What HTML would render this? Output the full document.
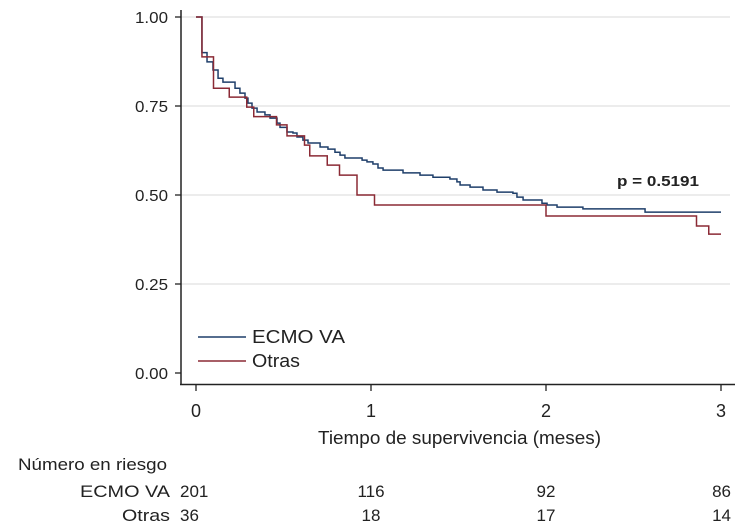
<!DOCTYPE html>
<html><head><meta charset="utf-8"><style>
body{margin:0;background:#fff}
svg text{font-family:"Liberation Sans",Arial,sans-serif;fill:#222}
</style></head><body>
<svg id="c" width="750" height="527" xmlns="http://www.w3.org/2000/svg">
<g id="grid"></g><g id="axes"></g><g id="curves"></g>
<g>
<line x1="198" y1="337" x2="246" y2="337" stroke="#1f3f6a" stroke-width="1.6"/>
<text x="252" y="343" font-size="18" textLength="93" lengthAdjust="spacingAndGlyphs">ECMO VA</text>
<line x1="198" y1="361" x2="246" y2="361" stroke="#8b2a35" stroke-width="1.6"/>
<text x="252" y="367" font-size="18" textLength="48" lengthAdjust="spacingAndGlyphs">Otras</text>
</g>
<text x="617" y="186" font-size="15" font-weight="bold" textLength="82" lengthAdjust="spacingAndGlyphs">p = 0.5191</text>
<text x="318" y="444" font-size="18" textLength="283" lengthAdjust="spacingAndGlyphs">Tiempo de supervivencia (meses)</text>
<text x="18" y="470" font-size="17" textLength="149" lengthAdjust="spacingAndGlyphs">Número en riesgo</text>
<text x="80" y="497" font-size="17" textLength="90" lengthAdjust="spacingAndGlyphs">ECMO VA</text>
<text x="122" y="521" font-size="17" textLength="48" lengthAdjust="spacingAndGlyphs">Otras</text>
<g id="risk"></g>
</svg>
<script>
const xTicks=[0,1,2,3];
const yTicks=[0,0.25,0.5,0.75,1];
const yTickLabels=["0.00","0.25","0.50","0.75","1.00"];
const ecmoTimes=[0,0.034,0.063,0.097,0.126,0.154,0.223,0.251,0.28,0.297,0.32,0.349,0.394,0.423,0.463,0.48,0.52,0.554,0.577,0.611,0.64,0.709,0.754,0.794,0.823,0.851,0.949,0.977,1.011,1.04,1.069,1.183,1.28,1.354,1.451,1.491,1.509,1.566,1.64,1.72,1.811,1.834,1.869,1.977,2.006,2.063,2.211,2.566,3.0];
const ecmoSurv=[1,0.90,0.874,0.851,0.828,0.817,0.80,0.786,0.772,0.758,0.744,0.733,0.725,0.716,0.702,0.69,0.677,0.674,0.663,0.654,0.646,0.635,0.629,0.62,0.612,0.604,0.598,0.593,0.587,0.576,0.57,0.562,0.556,0.55,0.545,0.537,0.528,0.522,0.514,0.508,0.505,0.494,0.486,0.477,0.472,0.466,0.461,0.452,0.452];
const otrasTimes=[0,0.034,0.1,0.19,0.29,0.33,0.46,0.52,0.62,0.65,0.75,0.82,0.92,1.02,2.0,2.86,2.93,3.0];
const otrasSurv=[1,0.888,0.80,0.775,0.747,0.72,0.697,0.666,0.64,0.61,0.584,0.556,0.50,0.472,0.441,0.413,0.39,0.39];
const riskEcmo=[201,116,92,86];
const riskOtras=[36,18,17,14];
const X=t=>196+t*175, Y=v=>373-v*356;
const NS="http://www.w3.org/2000/svg";
function mk(tag,attrs,parent){const e=document.createElementNS(NS,tag);for(const k in attrs)e.setAttribute(k,attrs[k]);parent.appendChild(e);return e;}
const grid=document.getElementById('grid'),axes=document.getElementById('axes'),curves=document.getElementById('curves'),risk=document.getElementById('risk');
yTicks.forEach((v,i)=>{
 if(v>0){const g=mk('line',{x1:181,x2:730,y1:Y(v),y2:Y(v),stroke:'#e6e6e6','stroke-width':1.5},grid);
 
 }
 const t=mk('line',{x1:175,x2:181,y1:Y(v),y2:Y(v),stroke:'#222','stroke-width':1.3},axes);
 
 
 const l=mk('text',{x:168,y:Y(v)+6,'font-size':16,'text-anchor':'end',textLength:33,lengthAdjust:'spacingAndGlyphs'},axes);l.textContent=yTickLabels[i];
 
 
});
const ya=mk('line',{x1:181,x2:181,y1:10,y2:385,stroke:'#222','stroke-width':1.5},axes);


const xa=mk('line',{x1:180,x2:735,y1:384.5,y2:384.5,stroke:'#222','stroke-width':1.5},axes);


xTicks.forEach(v=>{
 const t=mk('line',{x1:X(v),x2:X(v),y1:385,y2:391,stroke:'#222','stroke-width':1.3},axes);
 
 
 const l=mk('text',{x:X(v),y:417,'font-size':18,'text-anchor':'middle'},axes);l.textContent=v;
 
 
});
function step(ts,ss){let d='M'+X(ts[0])+','+Y(ss[0]);for(let i=1;i<ts.length;i++){d+=' H'+X(ts[i])+' V'+Y(ss[i]);}return d;}
const pe=mk('path',{d:step(ecmoTimes,ecmoSurv),fill:'none',stroke:'#1f3f6a','stroke-width':1.5},curves);


const po=mk('path',{d:step(otrasTimes,otrasSurv),fill:'none',stroke:'#8b2a35','stroke-width':1.5},curves);


xTicks.forEach((v,i)=>{
 const anchor=i==0?'start':(i==3?'end':'middle');
 const ax=i==0?180:(i==3?731:X(v));
 const a=mk('text',{x:ax,y:497,'font-size':17,'text-anchor':anchor},risk);
 a.textContent=riskEcmo[i];
 
 
 const b=mk('text',{x:ax,y:521,'font-size':17,'text-anchor':anchor},risk);
 b.textContent=riskOtras[i];
 
 
});
</script>
</body></html>
